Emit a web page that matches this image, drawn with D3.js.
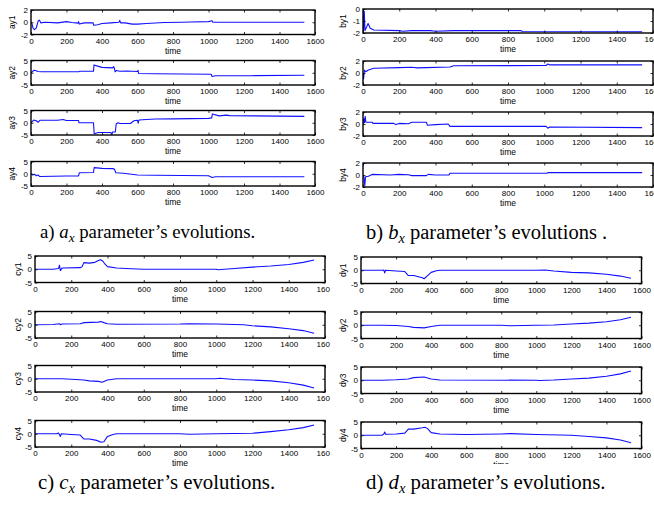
<!DOCTYPE html>
<html>
<head>
<meta charset="utf-8">
<script src="https://cdn.jsdelivr.net/npm/d3@7"></script>
<style>
  html, body { margin: 0; padding: 0; background: #fff; }
  svg { display: block; }
  .tick text { font-family: "Liberation Sans", Arial, sans-serif; font-size: 8px; fill: #000; }
  .tick line { stroke: #000; stroke-width: 0.8; }
  .ylab, .xlab { font-family: "Liberation Sans", Arial, sans-serif; font-size: 8.5px; fill: #000; }
  .caption { font-family: "Liberation Serif", "Times New Roman", serif; fill: #000; }
</style>
</head>
<body>
<svg id="fig" width="654" height="510"></svg>
<script>
// ---- data: parameter evolutions over time, [time, value] ----
const xTicks = [0, 200, 400, 600, 800, 1000, 1200, 1400, 1600];

const ay1 = [[0,0],[5,-0.2],[12,-1.0],[20,-1.2],[30,-0.9],[40,0.2],[47,0.35],[55,-0.1],[80,0],[150,-0.1],[200,0.1],[230,-0.05],[265,-0.15],[268,0.1],[272,-0.3],[300,-0.1],[350,-0.1],[353,-0.5],[375,-0.4],[400,-0.2],[450,-0.1],[495,0],[500,0.3],[505,-0.1],[530,-0.1],[570,-0.3],[600,-0.3],[650,-0.2],[750,-0.05],[850,0],[900,0.05],[1000,0.1],[1020,0.25],[1025,0],[1200,0],[1540,0]];
const ay2 = [[0,0],[8,0.4],[15,1.0],[25,0.9],[40,0.5],[60,0.4],[270,0.4],[272,0.6],[352,0.6],[355,3.2],[380,2.6],[400,2.2],[460,2.0],[465,2.5],[470,1.8],[474,0.4],[480,0.9],[500,0.6],[540,0.7],[600,0.5],[603,1.0],[606,-0.3],[700,-0.4],[1015,-0.6],[1020,-1.5],[1040,-1.2],[1240,-1.2],[1540,-1.0]];
const ay3 = [[0,0],[8,0.6],[15,1.1],[30,0.8],[40,0.2],[50,1.0],[150,1.0],[180,1.3],[200,0.9],[268,0.9],[270,0.0],[352,0.0],[356,-4.5],[380,-4.0],[450,-4.0],[455,-4.8],[460,-3.8],[475,-3.8],[480,-0.5],[490,0.0],[500,-0.3],[560,-0.3],[580,0.8],[600,1.0],[604,-0.2],[608,1.1],[650,1.3],[700,1.5],[800,1.6],[1000,1.8],[1018,2.0],[1022,3.6],[1060,2.8],[1100,3.1],[1120,2.9],[1540,2.6]];
const ay4 = [[0,0],[10,-0.5],[20,-0.2],[30,-0.8],[40,-0.5],[48,-1.1],[200,-0.9],[268,-0.9],[272,0.4],[352,0.5],[356,2.5],[400,2.2],[460,2.1],[470,1.9],[478,0.4],[520,0.2],[600,-0.5],[700,-0.6],[1000,-0.8],[1020,-1.5],[1040,-1.2],[1540,-1.2]];

const by1 = [[0,0],[3,-1.8],[7,-0.2],[11,-1.8],[20,-1.5],[28,-1.2],[40,-1.6],[60,-1.75],[200,-1.8],[220,-1.85],[270,-1.8],[370,-1.8],[400,-1.85],[500,-1.8],[870,-1.8],[880,-1.87],[1540,-1.9]];
const by2 = [[0,0],[3,-1.0],[8,0.5],[15,0.2],[30,0.5],[60,0.8],[200,0.9],[270,0.95],[300,0.85],[350,0.9],[480,1.0],[500,1.2],[1010,1.25],[1020,1.5],[1030,1.35],[1540,1.35]];
const by3 = [[0,0],[4,0.9],[8,0.2],[12,1.3],[16,0.3],[50,0.3],[55,0.1],[170,0.1],[180,-0.1],[200,0.1],[250,0.05],[270,0.3],[350,0.3],[355,-0.2],[400,-0.1],[470,0.0],[480,-0.4],[1010,-0.4],[1020,-0.7],[1030,-0.5],[1540,-0.6]];
const by4 = [[0,0],[5,-0.3],[10,-1.8],[14,-0.3],[30,-0.2],[50,0.1],[150,0.0],[200,0.1],[250,0.05],[270,-0.1],[350,-0.1],[360,0.1],[400,0.0],[475,0.0],[480,0.3],[1015,0.3],[1020,0.4],[1540,0.4]];

const cy1 = [[0,0],[100,0],[130,0.3],[135,1.5],[140,-0.5],[150,0.5],[250,0.6],[260,1.0],[270,2.5],[300,2.3],[330,2.6],[350,3.3],[362,3.6],[375,3.0],[385,2.0],[400,1.0],[450,0.5],[500,0.3],[600,0.0],[1000,0.0],[1010,-0.2],[1100,0.3],[1200,0.8],[1300,1.2],[1400,1.8],[1480,2.6],[1540,3.5]];
const cy2 = [[0,0],[100,0.1],[135,0.4],[140,0.0],[150,0.3],[250,0.4],[270,0.8],[350,1.0],[362,1.2],[380,0.8],[400,0.4],[450,0.2],[800,0.3],[850,0.4],[1000,0.3],[1150,0.0],[1200,-0.4],[1300,-0.8],[1400,-1.5],[1480,-2.2],[1540,-3.2]];
const cy3 = [[0,0],[150,0.0],[200,-0.2],[270,-0.5],[300,-0.8],[350,-1.0],[370,-1.3],[400,-0.5],[450,0.0],[1000,0.0],[1020,0.2],[1050,0.0],[1100,-0.3],[1200,-0.5],[1300,-0.8],[1400,-1.5],[1480,-2.4],[1540,-3.5]];
const cy4 = [[0,0],[120,0],[130,0.3],[140,-1.0],[145,0.0],[200,-0.3],[250,-0.5],[270,-2.0],[300,-2.0],[340,-2.5],[365,-3.2],[380,-3.0],[400,-1.0],[430,-0.3],[450,0.0],[800,0.0],[850,-0.2],[1000,0.0],[1200,0.2],[1300,0.8],[1400,1.5],[1480,2.3],[1540,3.3]];

const dy1 = [[0,0],[120,0],[130,0.1],[135,-1.0],[140,0.0],[200,-0.3],[250,-0.5],[270,-2.0],[300,-2.0],[350,-2.8],[360,-3.2],[380,-2.0],[400,-0.8],[430,-0.2],[450,0.0],[1000,0.0],[1050,0.1],[1100,-0.3],[1200,-0.8],[1300,-1.0],[1400,-1.5],[1480,-2.2],[1540,-3.0]];
const dy2 = [[0,0],[120,0],[200,-0.1],[270,-0.5],[300,-0.8],[360,-1.0],[400,-0.5],[450,0.0],[800,0.0],[850,-0.2],[1000,0.0],[1100,0.1],[1200,0.5],[1300,0.8],[1400,1.3],[1480,2.1],[1540,3.0]];
const dy3 = [[0,0],[120,0],[200,0.2],[270,0.5],[300,1.0],[360,1.2],[400,0.5],[450,0.1],[1000,0.0],[1020,-0.1],[1100,0.1],[1200,0.5],[1300,0.8],[1400,1.5],[1480,2.4],[1540,3.5]];
const dy4 = [[0,0],[120,0],[130,0.5],[135,1.2],[140,0.4],[200,0.5],[250,0.8],[270,2.3],[300,2.3],[350,2.8],[365,3.0],[380,2.5],[400,1.0],[450,0.5],[600,0.3],[800,0.5],[850,0.6],[1000,0.3],[1200,0.0],[1300,-0.5],[1400,-1.0],[1480,-1.8],[1540,-2.8]];

const yDomA1 = [-2, 2], yDomB1 = [-2, 0], yDomB = [-2, 2], yDom5 = [-5, 5];
const yTicks2 = [-2, 0, 2], yTicksB1 = [-2, -1, 0], yTicks5 = [-5, 0, 5];

const captionText = [
  { tag: "a)", sym: "a", rest: " parameter\u2019s evolutions." },
  { tag: "b)", sym: "b", rest: " parameter\u2019s evolutions ." },
  { tag: "c)", sym: "c", rest: " parameter\u2019s evolutions." },
  { tag: "d)", sym: "d", rest: " parameter\u2019s evolutions." }
];

// ---- layout of the four blocks of subplots ----
const blocks = [
  { id: "a", x0: 31, x1: 315, tops: [10, 60.5, 110.5, 161.5], h: 24.5, labX: 12,
    series: [["ay1", ay1, yDomA1, yTicks2], ["ay2", ay2, yDom5, yTicks5], ["ay3", ay3, yDom5, yTicks5], ["ay4", ay4, yDom5, yTicks5]],
    capX: 40, capY: 238, capSize: 18.8, clip: null },
  { id: "b", x0: 363, x1: 653, tops: [9, 61, 112, 163], h: 24, labX: 343,
    series: [["by1", by1, yDomB1, yTicksB1], ["by2", by2, yDomB, yTicks2], ["by3", by3, yDomB, yTicks2], ["by4", by4, yDomB, yTicks2]],
    capX: 366, capY: 239, capSize: 20.5, clip: null },
  { id: "c", x0: 35, x1: 325, tops: [256, 311.5, 365.5, 420.5], h: 26.5, labX: 18,
    series: [["cy1", cy1, yDom5, yTicks5], ["cy2", cy2, yDom5, yTicks5], ["cy3", cy3, yDom5, yTicks5], ["cy4", cy4, yDom5, yTicks5]],
    capX: 38, capY: 489, capSize: 20.8, clip: [0, 245, 330, 230] },
  { id: "d", x0: 361, x1: 641.5, tops: [257, 312, 367, 422], h: 26.5, labX: 343,
    series: [["dy1", dy1, yDom5, yTicks5], ["dy2", dy2, yDom5, yTicks5], ["dy3", dy3, yDom5, yTicks5], ["dy4", dy4, yDom5, yTicks5]],
    capX: 366, capY: 489, capSize: 20.8, clip: [330, 245, 324, 219] }
];

const svg = d3.select("#fig");
const defs = svg.append("defs");
const fmt = d => String(d);

blocks.forEach((b, bi) => {
  const g = svg.append("g");
  if (b.clip) {
    defs.append("clipPath").attr("id", "blk-" + b.id)
      .append("rect").attr("x", b.clip[0]).attr("y", b.clip[1]).attr("width", b.clip[2]).attr("height", b.clip[3]);
    g.attr("clip-path", "url(#blk-" + b.id + ")");
  }
  const x = d3.scaleLinear().domain([0, 1600]).range([b.x0, b.x1]);

  b.series.forEach(([name, data, dom, ticks], si) => {
    const top = b.tops[si], bot = top + b.h;
    const y = d3.scaleLinear().domain(dom).range([bot, top]);
    const sg = g.append("g");
    const cid = "pl-" + name;
    defs.append("clipPath").attr("id", cid)
      .append("rect").attr("x", b.x0).attr("y", top).attr("width", b.x1 - b.x0).attr("height", b.h);

    // trace
    sg.append("path")
      .datum(data)
      .attr("clip-path", "url(#" + cid + ")")
      .attr("fill", "none")
      .attr("stroke", "#1010ff")
      .attr("stroke-width", 1.1)
      .attr("stroke-linejoin", "round")
      .attr("d", d3.line().x(d => x(d[0])).y(d => y(d[1])));

    // axes with inward ticks on all four sides
    const ax = sg.append("g").attr("transform", `translate(0,${bot})`)
      .call(d3.axisBottom(x).tickValues(xTicks).tickFormat(fmt).tickSize(-2.5).tickPadding(3.5).tickSizeOuter(0));
    const axT = sg.append("g").attr("transform", `translate(0,${top})`)
      .call(d3.axisTop(x).tickValues(xTicks).tickFormat("").tickSize(-2.5).tickSizeOuter(0));
    const ay = sg.append("g").attr("transform", `translate(${b.x0},0)`)
      .call(d3.axisLeft(y).tickValues(ticks).tickFormat(fmt).tickSize(-2.5).tickPadding(3).tickSizeOuter(0));
    const ayR = sg.append("g").attr("transform", `translate(${b.x1},0)`)
      .call(d3.axisRight(y).tickValues(ticks).tickFormat("").tickSize(-2.5).tickSizeOuter(0));
    [ax, axT, ay, ayR].forEach(a => a.select(".domain").remove());

    // frame
    sg.append("rect")
      .attr("x", b.x0).attr("y", top).attr("width", b.x1 - b.x0).attr("height", b.h)
      .attr("fill", "none").attr("stroke", "#000").attr("stroke-width", 1.4);

    // labels
    sg.append("text").attr("class", "xlab")
      .attr("x", (b.x0 + b.x1) / 2).attr("y", bot + 19)
      .attr("text-anchor", "middle").text("time");
    sg.append("text").attr("class", "ylab")
      .attr("transform", `translate(${b.labX + 3},${top + b.h / 2}) rotate(-90)`)
      .attr("text-anchor", "middle").text(name);
  });

  // block caption
  const c = captionText[bi];
  const t = svg.append("text").attr("class", "caption")
    .attr("x", b.capX).attr("y", b.capY).style("font-size", b.capSize + "px");
  t.append("tspan").text(c.tag + " ");
  t.append("tspan").attr("font-style", "italic").text(c.sym);
  t.append("tspan").attr("font-style", "italic").attr("font-size", (b.capSize * 0.7) + "px").attr("dy", 3.5).text("x");
  t.append("tspan").attr("dy", -3.5).text(c.rest);
});
</script>
</body>
</html>
